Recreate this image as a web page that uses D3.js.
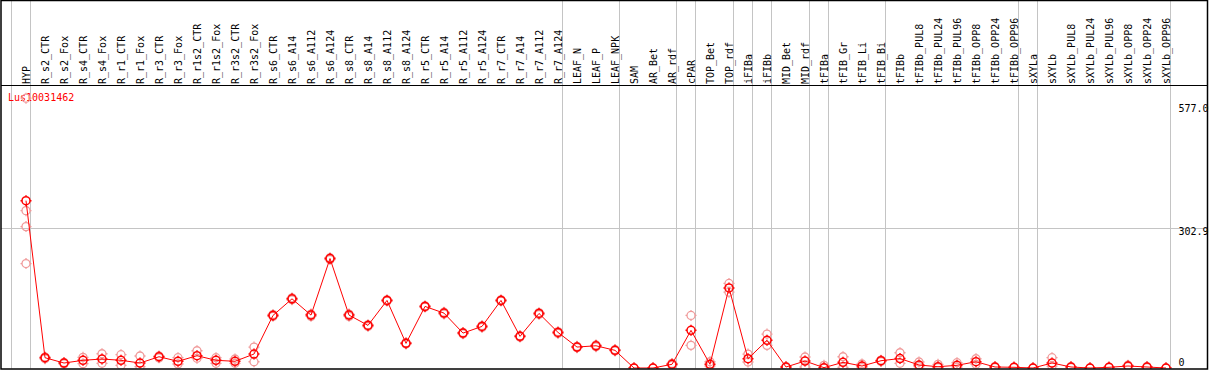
<!DOCTYPE html>
<html>
<head>
<meta charset="utf-8">
<script src="https://cdn.jsdelivr.net/npm/d3@7"></script>
<style>
  body { margin: 0; background: #fff; }
  text { font-family: "DejaVu Sans Mono", monospace; font-size: 10px; }
</style>
</head>
<body>
<div id="chart"></div>
<script>
const geneId = 'Lus10031462';

const categories = [
  'HYP', 'R_s2_CTR', 'R_s2_Fox', 'R_s4_CTR', 'R_s4_Fox', 'R_r1_CTR', 'R_r1_Fox',
  'R_r3_CTR', 'R_r3_Fox', 'R_r1s2_CTR', 'R_r1s2_Fox', 'R_r3s2_CTR', 'R_r3s2_Fox',
  'R_s6_CTR', 'R_s6_A14', 'R_s6_A112', 'R_s6_A124', 'R_s8_CTR', 'R_s8_A14',
  'R_s8_A112', 'R_s8_A124', 'R_r5_CTR', 'R_r5_A14', 'R_r5_A112', 'R_r5_A124',
  'R_r7_CTR', 'R_r7_A14', 'R_r7_A112', 'R_r7_A124', 'LEAF_N', 'LEAF_P', 'LEAF_NPK',
  'SAM', 'AR_Bet', 'AR_rdf', 'cPAR', 'TOP_Bet', 'TOP_rdf', 'iFIBa', 'iFIBb',
  'MID_Bet', 'MID_rdf', 'tFIBa', 'tFIB_Gr', 'tFIB_Li', 'tFIB_Bi', 'tFIBb',
  'tFIBb_PUL8', 'tFIBb_PUL24', 'tFIBb_PUL96', 'tFIBb_OPP8', 'tFIBb_OPP24', 'tFIBb_OPP96',
  'sXYLa', 'sXYLb', 'sXYLb_PUL8', 'sXYLb_PUL24', 'sXYLb_PUL96', 'sXYLb_OPP8',
  'sXYLb_OPP24', 'sXYLb_OPP96'
];

// mean expression per sample
const values = [
  362.8, 22.3, 10.8, 16.7, 19.5, 16.7, 10.8,
  24.4, 14.5, 26.6, 16.7, 14.5, 30.3,
  114, 150, 114.7, 237.3, 114.7, 92.4,
  146.5, 53.4, 133.5, 119, 75.7, 90.2,
  146.5, 68.6, 118.3, 77.2, 45.4, 48.2, 38.3,
  0, 0, 8, 81.6, 8, 173.7, 20.1, 60,
  2.2, 15.1, 0.7, 12.3, 4.3, 15.8, 20.5,
  6.5, 2.8, 5.8, 13.6, 2.2, 1.5,
  0, 10.8, 2.2, 0, 1.5, 4.3,
  2.2, 0
];

// individual replicates per sample
const replicates = [
  [585, 341.2, 306.6, 226.5], [24, 20], [12, 9], [23.1, 9.3], [30.9, 10.2], [28.8, 5.8], [26, 2.8],
  [26, 22], [22.3, 8.7], [37.4, 21], [22.3, 10.2], [19.5, 10.2], [45.4, 13.6],
  [116, 112], [152, 148], [117, 112], [239, 235], [117, 112], [94, 90],
  [148, 145], [55, 52], [135, 132], [121, 117], [77, 74], [92, 88],
  [148, 145], [70, 67], [120, 116], [79, 75], [47, 44], [50, 46], [40, 37],
  [0, 0], [0, 0], [10, 6], [114, 49.1], [13.6, 4.3], [183.3, 164.4], [30.3, 13], [73.6, 49.1],
  [3, 1], [23.8, 2.2], [5.8, 0], [24.4, 1.5], [8.7, 1], [17, 14], [33.1, 10.2],
  [13, 3], [8, 1], [11.5, 2], [20.1, 8], [3, 1], [2, 1],
  [0, 0], [22.3, 4], [3, 1], [0, 0], [2, 1], [6, 3],
  [3, 1], [0, 0]
];

// last sample of each tissue group (a grey separator follows it)
const groupEnds = ['HYP', 'R_r7_A124', 'LEAF_NPK', 'AR_rdf', 'cPAR', 'TOP_rdf', 'iFIBa',
  'iFIBb', 'MID_rdf', 'tFIBa', 'tFIB_Bi', 'tFIBb_OPP96', 'sXYLa', 'sXYLb_OPP96'];

const yTickValues = [577.0, 302.9, 0];
const yTickLabels = ['577.0', '302.9', '0'];
const gridValues = [302.9];

const width = 1209, height = 370;
const headerBottom = 85.5;
const plotBottom = 368.5;

const svg = d3.select('#chart').append('svg')
  .attr('width', width)
  .attr('height', height);

const xScale = d3.scalePoint().domain(categories).range([26, 1166]);
const yScale = d3.scaleLinear().domain([0, 302.9]).range([368, 228.3]);

svg.append('defs').append('clipPath').attr('id', 'plot-clip')
  .append('rect')
  .attr('x', 1.5).attr('y', headerBottom)
  .attr('width', width - 3).attr('height', plotBottom - headerBottom);

// separators between groups
const sepX = [xScale(categories[0]) - xScale.step() + 4]
  .concat(groupEnds.map(c => xScale(c) + 4));
svg.append('g').selectAll('line')
  .data(sepX)
  .enter().append('line')
    .attr('x1', d => Math.round(d) + 0.5).attr('x2', d => Math.round(d) + 0.5)
    .attr('y1', 0).attr('y2', plotBottom)
    .attr('stroke', '#c4c4c4');

svg.append('g').selectAll('line')
  .data(gridValues)
  .enter().append('line')
    .attr('x1', 1).attr('x2', width - 2)
    .attr('y1', d => Math.round(yScale(d)) + 0.5).attr('y2', d => Math.round(yScale(d)) + 0.5)
    .attr('stroke', '#c4c4c4');

// sample labels
svg.append('g').selectAll('text')
  .data(categories)
  .enter().append('text')
    .attr('transform', d => `translate(${xScale(d) + 3.5}, 84) rotate(-90)`)
    .attr('fill', '#000')
    .text(d => d);

// y labels on the right
svg.append('g').selectAll('text')
  .data(yTickValues)
  .enter().append('text')
    .attr('x', 1178.5)
    .attr('y', (d, i) => yScale(d) + (d === 0 ? -2 : (i === 0 ? 10 : 7)))
    .attr('fill', '#000')
    .text((d, i) => yTickLabels[i]);

svg.append('text')
  .attr('x', 8).attr('y', 101)
  .attr('fill', '#ff0000')
  .text(geneId);

const plot = svg.append('g').attr('clip-path', 'url(#plot-clip)');

function marker(r) {
  const t = r + 1.5;
  return `M${-r},0a${r},${r} 0 1,0 ${2 * r},0a${r},${r} 0 1,0 ${-2 * r},0` +
    `M0,${-r}V${-t}M0,${r}V${t}M${-r},0H${-t}M${r},0H${t}`;
}

const repPoints = [];
replicates.forEach((reps, i) => reps.forEach(v => repPoints.push({ c: categories[i], v })));

plot.append('g').selectAll('path')
  .data(repPoints)
  .enter().append('path')
    .attr('transform', d => `translate(${xScale(d.c)}, ${yScale(d.v)})`)
    .attr('d', marker(4))
    .attr('fill', 'none')
    .attr('stroke', '#f09a9a')
    .attr('stroke-width', 1.3);

const line = d3.line()
  .x((d, i) => xScale(categories[i]))
  .y(d => yScale(d));

plot.append('path')
  .datum(values)
  .attr('d', line)
  .attr('fill', 'none')
  .attr('stroke', '#ff0000')
  .attr('stroke-width', 1);

plot.append('g').selectAll('path')
  .data(values)
  .enter().append('path')
    .attr('transform', (d, i) => `translate(${xScale(categories[i])}, ${yScale(d)})`)
    .attr('d', marker(4))
    .attr('fill', 'none')
    .attr('stroke', '#ff0000')
    .attr('stroke-width', 1.5);

// frame
svg.append('line')
  .attr('x1', 1).attr('x2', width - 1)
  .attr('y1', headerBottom).attr('y2', headerBottom)
  .attr('stroke', '#000');
svg.append('rect')
  .attr('x', 1).attr('y', 0.5)
  .attr('width', width - 2.5).attr('height', plotBottom)
  .attr('fill', 'none')
  .attr('stroke', '#000')
  .attr('stroke-width', 1.5);
</script>
</body>
</html>
